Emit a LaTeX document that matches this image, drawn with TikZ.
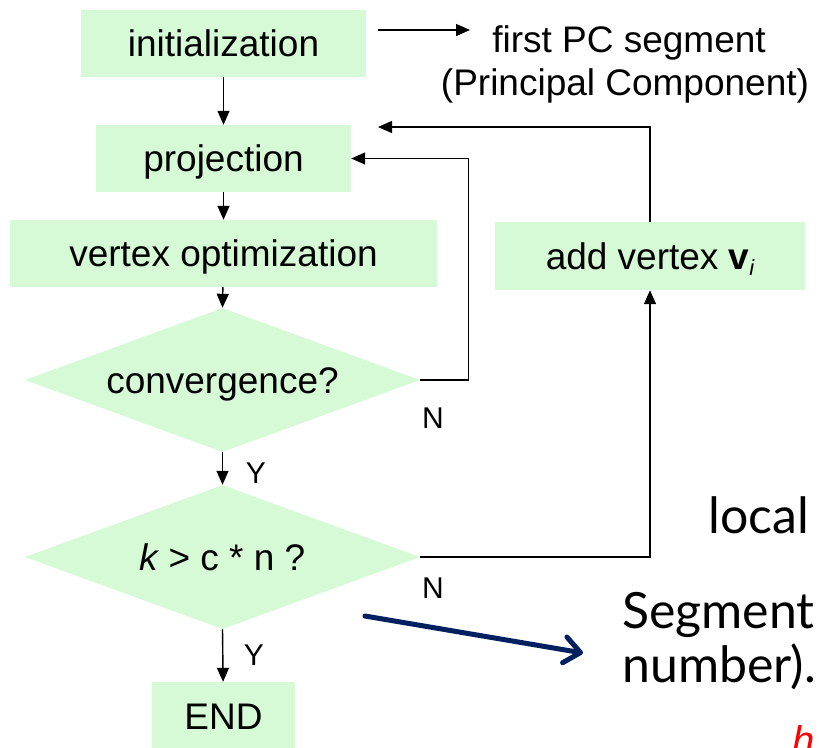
\documentclass[tikz,border=0pt]{standalone}
\usepackage{fontspec}
\setmainfont{Liberation Sans}
\newfontfamily\handfont{Lato}
\usetikzlibrary{shapes.geometric,arrows.meta}
\definecolor{boxgreen}{RGB}{214,250,214}
\definecolor{navyarrow}{RGB}{0,32,96}
\begin{document}
\begin{tikzpicture}[x=1pt,y=-1pt,
  box/.style={fill=boxgreen, draw=none, inner sep=0pt, text height=26pt, text depth=0pt,
    font=\fontsize{37}{42}\selectfont},
  dia/.style={diamond, fill=boxgreen, draw=none, inner sep=0pt,
    minimum width=395pt, minimum height=144pt},
  txt/.style={inner sep=0pt, text height=26pt, text depth=0pt, font=\fontsize{37}{42}\selectfont},
  lbl/.style={inner sep=0pt, text height=21pt, text depth=0pt, font=\fontsize{30}{30}\selectfont},
  arr/.style={line width=1.4pt, -{Triangle[length=14pt,width=12pt]}},
  hand/.style={inner sep=0pt, anchor=base west, font=\handfont\fontsize{50}{54}\selectfont},
  bigarrow/.style={line width=5pt, draw=navyarrow, line cap=round,
    -{Straight Barb[length=16pt,width=26pt,round]}}]
\useasboundingbox (0,0) rectangle (819,747);
\fill[white] (0,0) rectangle (819,747);

% boxes
\node[box, minimum width=285pt, minimum height=67pt] (init) at (223.5,43.5) {initialization};
\node[box, minimum width=255pt, minimum height=67pt] (proj) at (223.5,158.5) {projection};
\node[box, minimum width=427pt, minimum height=67pt] (vopt) at (223.5,253.5) {vertex optimization};
\node[dia] (d1) at (222.5,380) {};
\node[txt] (d1t) at (d1) {convergence?};
\node[dia] (d2) at (222.5,557) {};
\node[txt] (d2t) at (d2) {\itshape k\upshape{} > c * n ?};
\node[box, minimum width=143pt, minimum height=68pt] (end) at (223.5,716) {END};
\node[box, minimum width=310pt, minimum height=68pt] (addv) at (650,256)
  {add vertex \textbf{v}\raisebox{-6pt}{\fontsize{22}{22}\selectfont\itshape i}};

% PC text
\node[inner sep=0pt, anchor=base, font=\fontsize{37}{42}\selectfont] (pc1) at (629,52) {first PC segment};
\node[inner sep=0pt, anchor=base, font=\fontsize{37}{42}\selectfont] (pc2) at (625,95) {(Principal Component)};
\coordinate (pcs) at (378,30);
\coordinate (pce) at (470,30);
\draw[arr] (pcs) -- (pce);

% flow
\draw[arr] (init) -- (proj);
\draw[arr] (proj) -- (vopt);
\draw[arr] (vopt) -- (d1.north);
\draw[arr] (d1.south) -- (d2.north);
\draw[arr] (d2.south) -- (end);
\draw[arr] (d1.east) -- ++(48,0) |- (proj.east);
\draw[arr] (d2.east) -| (addv.south);
\coordinate (ret) at (378,127);
\draw[arr] (addv.north) |- (ret);

% labels
\node[lbl] (n1) at (433,418) {N};
\node[lbl] (n2) at (433,588) {N};
\node[lbl] (y1) at (256,473) {Y};
\node[lbl] (y2) at (254,655) {Y};

% slide remnants
\node[hand] (loc) at (708,533) {local};
\node[hand] (seg) at (622,628) {Segment};
\node[hand] (num) at (622,682) {number).};
\node[inner sep=0pt, anchor=base west, text=red, font=\fontsize{40}{40}\selectfont\itshape] (http) at (792,754) {h:};

\coordinate (ns) at (365,616);
\coordinate (ne) at (583,653);
\draw[bigarrow] (ns) -- (ne);
\end{tikzpicture}
\end{document}
